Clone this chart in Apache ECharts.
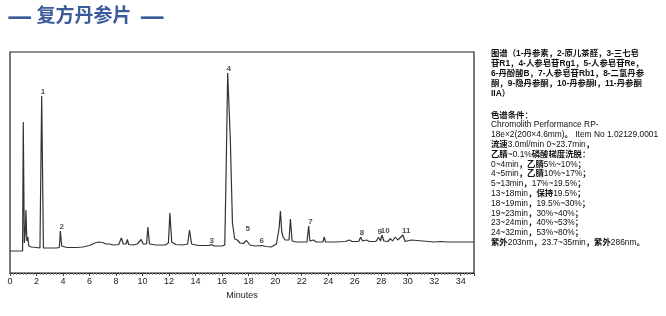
<!DOCTYPE html>
<html><head><meta charset="utf-8">
<script src="https://cdn.jsdelivr.net/npm/echarts@6/dist/echarts.min.js"></script>
<style>html,body{margin:0;padding:0;background:#fff}#c{width:666px;height:316px}</style>
</head><body><div id="c"></div>
<script>
// Chromatogram trace: [minutes, detector response (arbitrary units)]
const traceTimes = [0.0,0.95,1.0,1.08,1.15,1.2,1.27,1.35,1.42,1.6,2.0,2.26,2.39,2.52,2.8,3.5,3.72,3.8,3.9,4.3,5.0,5.5,6.0,6.4,6.7,7.0,7.1,7.25,7.5,7.8,8.2,8.4,8.55,8.75,8.85,8.95,9.3,9.6,9.9,10.05,10.3,10.4,10.52,11.0,11.7,11.95,12.06,12.2,12.5,13.0,13.4,13.54,13.7,14.2,15.0,15.2,15.4,16.0,16.2,16.3,16.42,16.5,16.62,16.78,16.95,17.15,17.35,17.6,17.84,18.1,18.5,19.0,19.3,19.7,20.1,20.3,20.4,20.5,20.6,20.75,20.9,21.05,21.15,21.28,21.6,22.0,22.4,22.53,22.62,22.9,23.1,23.6,23.7,23.8,24.5,25.3,25.6,25.8,26.3,26.45,26.6,26.9,27.1,27.6,27.8,27.95,28.06,28.2,28.5,28.7,28.85,29.07,29.25,29.4,29.64,29.8,30.27,30.4,32.0,32.5,33.0,35.0];
const traceValues = [22,22,151,30,40,63,32,36,27,26,25.5,25,177,25,25,25,25.5,42,27,25.5,25.5,26,27.5,30,31,30.5,32,29,29,28,28.5,35,29,29,33.5,28.5,28,29,33.5,29,29,46,29,28,28,30,60,31,28.5,28,29,43,29,27.5,27.5,28.5,27,27,28,100,200,198,133,50,34,33,30,29.5,32.5,28,27,27.5,26.5,26,29,45,62,41,36,33,31,33,54,32,31,31,31,47,32,33,31,31,36,31,31,31.5,33,31.5,31.5,35.7,32,33,31.5,31.5,35.7,32,38,32,31.5,34.5,32,36,33,32,38,31.5,33,31,31,31.5,31,31];

// Peak annotations
const peakNames = ['1','2','3','4','5','6','7','8','9','10','11'];
const peakLabelTimes = [2.49,3.90,15.22,16.50,17.94,18.99,22.66,26.55,27.88,28.31,29.89];
const peakLabelValues = [181,46.3,32,204,44,32.3,51.3,40.3,41.3,42.3,42.3];

// Axis
const xMin = 0, xMax = 35, xInterval = 2;
const xAxisName = 'Minutes';

// Texts
const titleName = '复方丹参片';
const legendLines = [
  '图谱（1-丹参素，2-原儿茶醛，3-三七皂',
  '苷R1，4-人参皂苷Rg1，5-人参皂苷Re，',
  '6-丹酚酸B，7-人参皂苷Rb1，8-二氢丹参',
  '酮，9-隐丹参酮，10-丹参酮I，11-丹参酮',
  'IIA）'
];
const conditionLines = [
  '色谱条件：',
  'Chromolith Performance RP-',
  '18e×2(200×4.6mm)。 Item No 1.02129.0001',
  '流速3.0ml/min 0~23.7min，',
  '乙腈~0.1%磷酸梯度洗脱：',
  '0~4min，乙腈5%~10%；',
  '4~5min，乙腈10%~17%；',
  '5~13min，17%~19.5%；',
  '13~18min，保持19.5%；',
  '18~19min，19.5%~30%；',
  '19~23min，30%~40%；',
  '23~24min，40%~53%；',
  '24~32min，53%~80%；',
  '紫外203nm，23.7~35min，紫外286nm。'
];

const traceData = traceTimes.map((t, i) => [t, traceValues[i]]);
const labelData = peakLabelTimes.map((t, i) => ({value: [t, peakLabelValues[i]], name: peakNames[i]}));

const LATIN = "'Liberation Sans',Arial,sans-serif";
const MIXED = "'Liberation Sans','Noto Sans CJK SC',sans-serif";
const CJK = "'Noto Sans CJK SC',sans-serif";
const cjkRe = /([\u3000-\u303f\u4e00-\u9fff\uff00-\uffef]+)/;
function toRich(s) {
  return s.split(cjkRe).filter(x => x.length).map(x => cjkRe.test(x) ? '{c|' + x + '}' : '{l|' + x + '}').join('');
}
function richStyle(bold) {
  return {
    c: {fontFamily: MIXED, fontSize: 8.4, fontWeight: 'bold', fill: '#111', lineHeight: 10, verticalAlign: 'middle'},
    l: {fontFamily: MIXED, fontSize: 8.4, fontWeight: bold ? 'bold' : 'normal', fill: '#111', lineHeight: 10, verticalAlign: 'middle'}
  };
}
const graphics = [{
  type: 'text', left: 7, top: 1,
  style: {
    text: '{d|—}{t|' + titleName + '}{d|—}',
    rich: {
      d: {fontSize: 28, fontFamily: CJK, fontWeight: 'bold', fill: '#3b5b9a', verticalAlign: 'middle', lineHeight: 28},
      t: {fontSize: 19, fontFamily: CJK, fontWeight: 'bold', fill: '#3b5b9a', padding: [0, 8, 0, 4], verticalAlign: 'middle', lineHeight: 28}
    }
  }
}];
legendLines.forEach((s, i) => graphics.push({
  type: 'text', left: 491, top: 49 + i * 10.2,
  style: {text: toRich(s), rich: richStyle(true)}
}));
conditionLines.forEach((s, i) => graphics.push({
  type: 'text', left: 491, top: 111 + i * 9.8,
  style: {text: toRich(s), rich: richStyle(false)}
}));

const chart = echarts.init(document.getElementById('c'));
chart.setOption({
  animation: false,
  backgroundColor: '#fff',
  grid: {left: 10, top: 52, right: 192, bottom: 43, show: true, borderColor: '#222', borderWidth: 1.2},
  xAxis: {
    type: 'value', min: xMin, max: xMax, interval: xInterval,
    name: xAxisName, nameLocation: 'middle', nameGap: 16,
    nameTextStyle: {fontSize: 9, color: '#222', fontFamily: LATIN},
    axisLine: {lineStyle: {color: '#222', width: 1}},
    axisTick: {show: true, length: 3, lineStyle: {color: '#444'}},
    minorTick: {show: true, splitNumber: 8, length: 2, lineStyle: {color: '#888'}},
    axisLabel: {fontSize: 9, color: '#222', margin: 4, fontFamily: LATIN, showMaxLabel: false},
    splitLine: {show: false}
  },
  yAxis: {type: 'value', min: 0, max: 221, show: false, splitLine: {show: false}},
  graphic: graphics,
  series: [
    {type: 'line', data: traceData, symbol: 'none', lineStyle: {color: '#333', width: 1.2}, z: 3},
    {type: 'scatter', data: labelData, symbolSize: 0,
     label: {show: true, position: 'inside', formatter: p => p.name, fontSize: 8, fontWeight: 'bold', color: '#222', fontFamily: "'Liberation Sans',sans-serif"}, z: 4}
  ]
});
</script></body></html>
